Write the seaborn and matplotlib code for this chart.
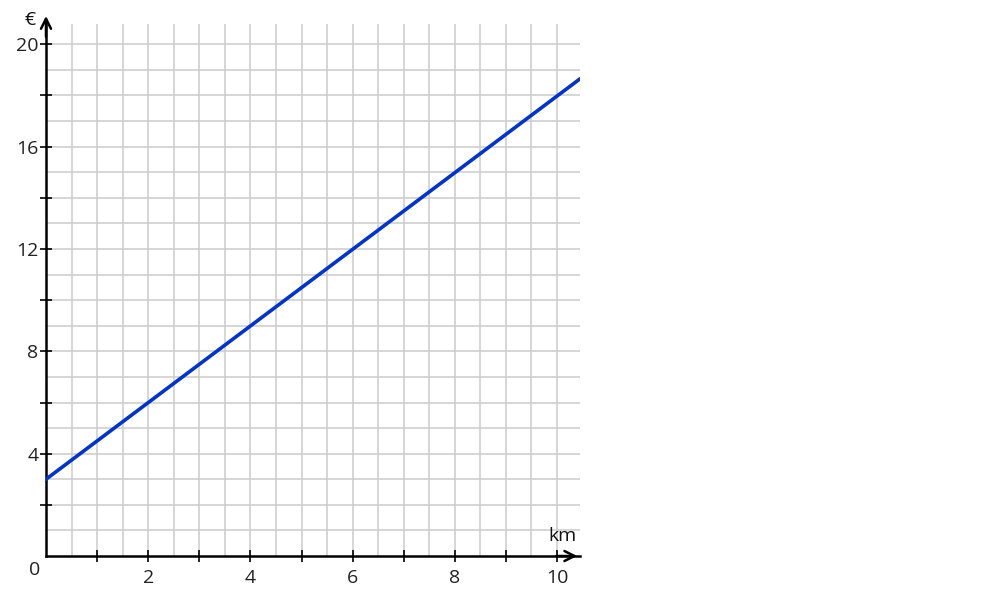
import matplotlib
matplotlib.use("Agg")
import matplotlib.pyplot as plt
import seaborn as sns
import pandas as pd
import numpy as np

# ---------------- data ----------------
km = [0.0, 10.45]
euro = [3.0, 18.65]

x_major = [2, 4, 6, 8, 10]
y_major = [4, 8, 12, 16, 20]

sns.set_style("white")
plt.rcParams['font.family'] = ['Open Sans', 'DejaVu Sans']

df = pd.DataFrame({"km": km, "euro": euro})

fig = plt.figure(figsize=(10, 6), dpi=100)
ax = fig.add_axes([0.046, 0.0733, 0.534, 0.887])

sns.lineplot(data=df, x="km", y="euro", ax=ax, color="#0433c8", linewidth=2.6, zorder=3)

ax.set_xlim(0, 10.45)
ax.set_ylim(0, 20.8)

# grid: 0.5 km x 1 euro squares
ax.set_xticks(np.arange(0.5, 10.5, 0.5), minor=True)
ax.set_yticks(np.arange(1, 21, 1), minor=True)
ax.grid(True, which="minor", color="#cccccc", linewidth=1.1, zorder=0)
ax.tick_params(which="minor", length=0)

ax.set_xticks(range(1, 11))
ax.set_xticklabels([str(v) if v in x_major else "" for v in range(1, 11)])
ax.set_yticks(range(2, 21, 2))
ax.set_yticklabels([str(v) if v in y_major else "" for v in range(2, 21, 2)])
ax.grid(True, which="major", color="#cccccc", linewidth=1.1, zorder=0)
ax.tick_params(which="major", bottom=True, left=True, direction="inout", length=9, width=1.2,
               labelsize=14, colors="black", labelcolor="#222222")
ax.tick_params(axis="x", pad=5)
ax.tick_params(axis="y", pad=1)

for s in ["top", "right"]:
    ax.spines[s].set_visible(False)
for s in ["left", "bottom"]:
    ax.spines[s].set_linewidth(1.8)
    ax.spines[s].set_color("black")

ax.set_xlabel("")
ax.set_ylabel("")

# axis arrows
ax.annotate("", xy=(0, 1.02), xycoords="axes fraction", xytext=(0, 0.97),
            arrowprops=dict(arrowstyle="->", color="black", lw=1.8, mutation_scale=18),
            annotation_clip=False)
ax.annotate("", xy=(1.0, 0), xycoords="axes fraction", xytext=(0.95, 0),
            arrowprops=dict(arrowstyle="->", color="black", lw=1.8, mutation_scale=18),
            annotation_clip=False)

ax.text(-0.029, 1.008, "€", transform=ax.transAxes, fontsize=14, ha="center", va="center", color="#111111")
ax.text(0.968, 0.037, "km", transform=ax.transAxes, fontsize=14, ha="center", va="center", color="#111111")
ax.text(-0.022, -0.026, "0", transform=ax.transAxes, fontsize=14, ha="center", va="center", color="#222222")

fig.savefig("out.png", dpi=100)
